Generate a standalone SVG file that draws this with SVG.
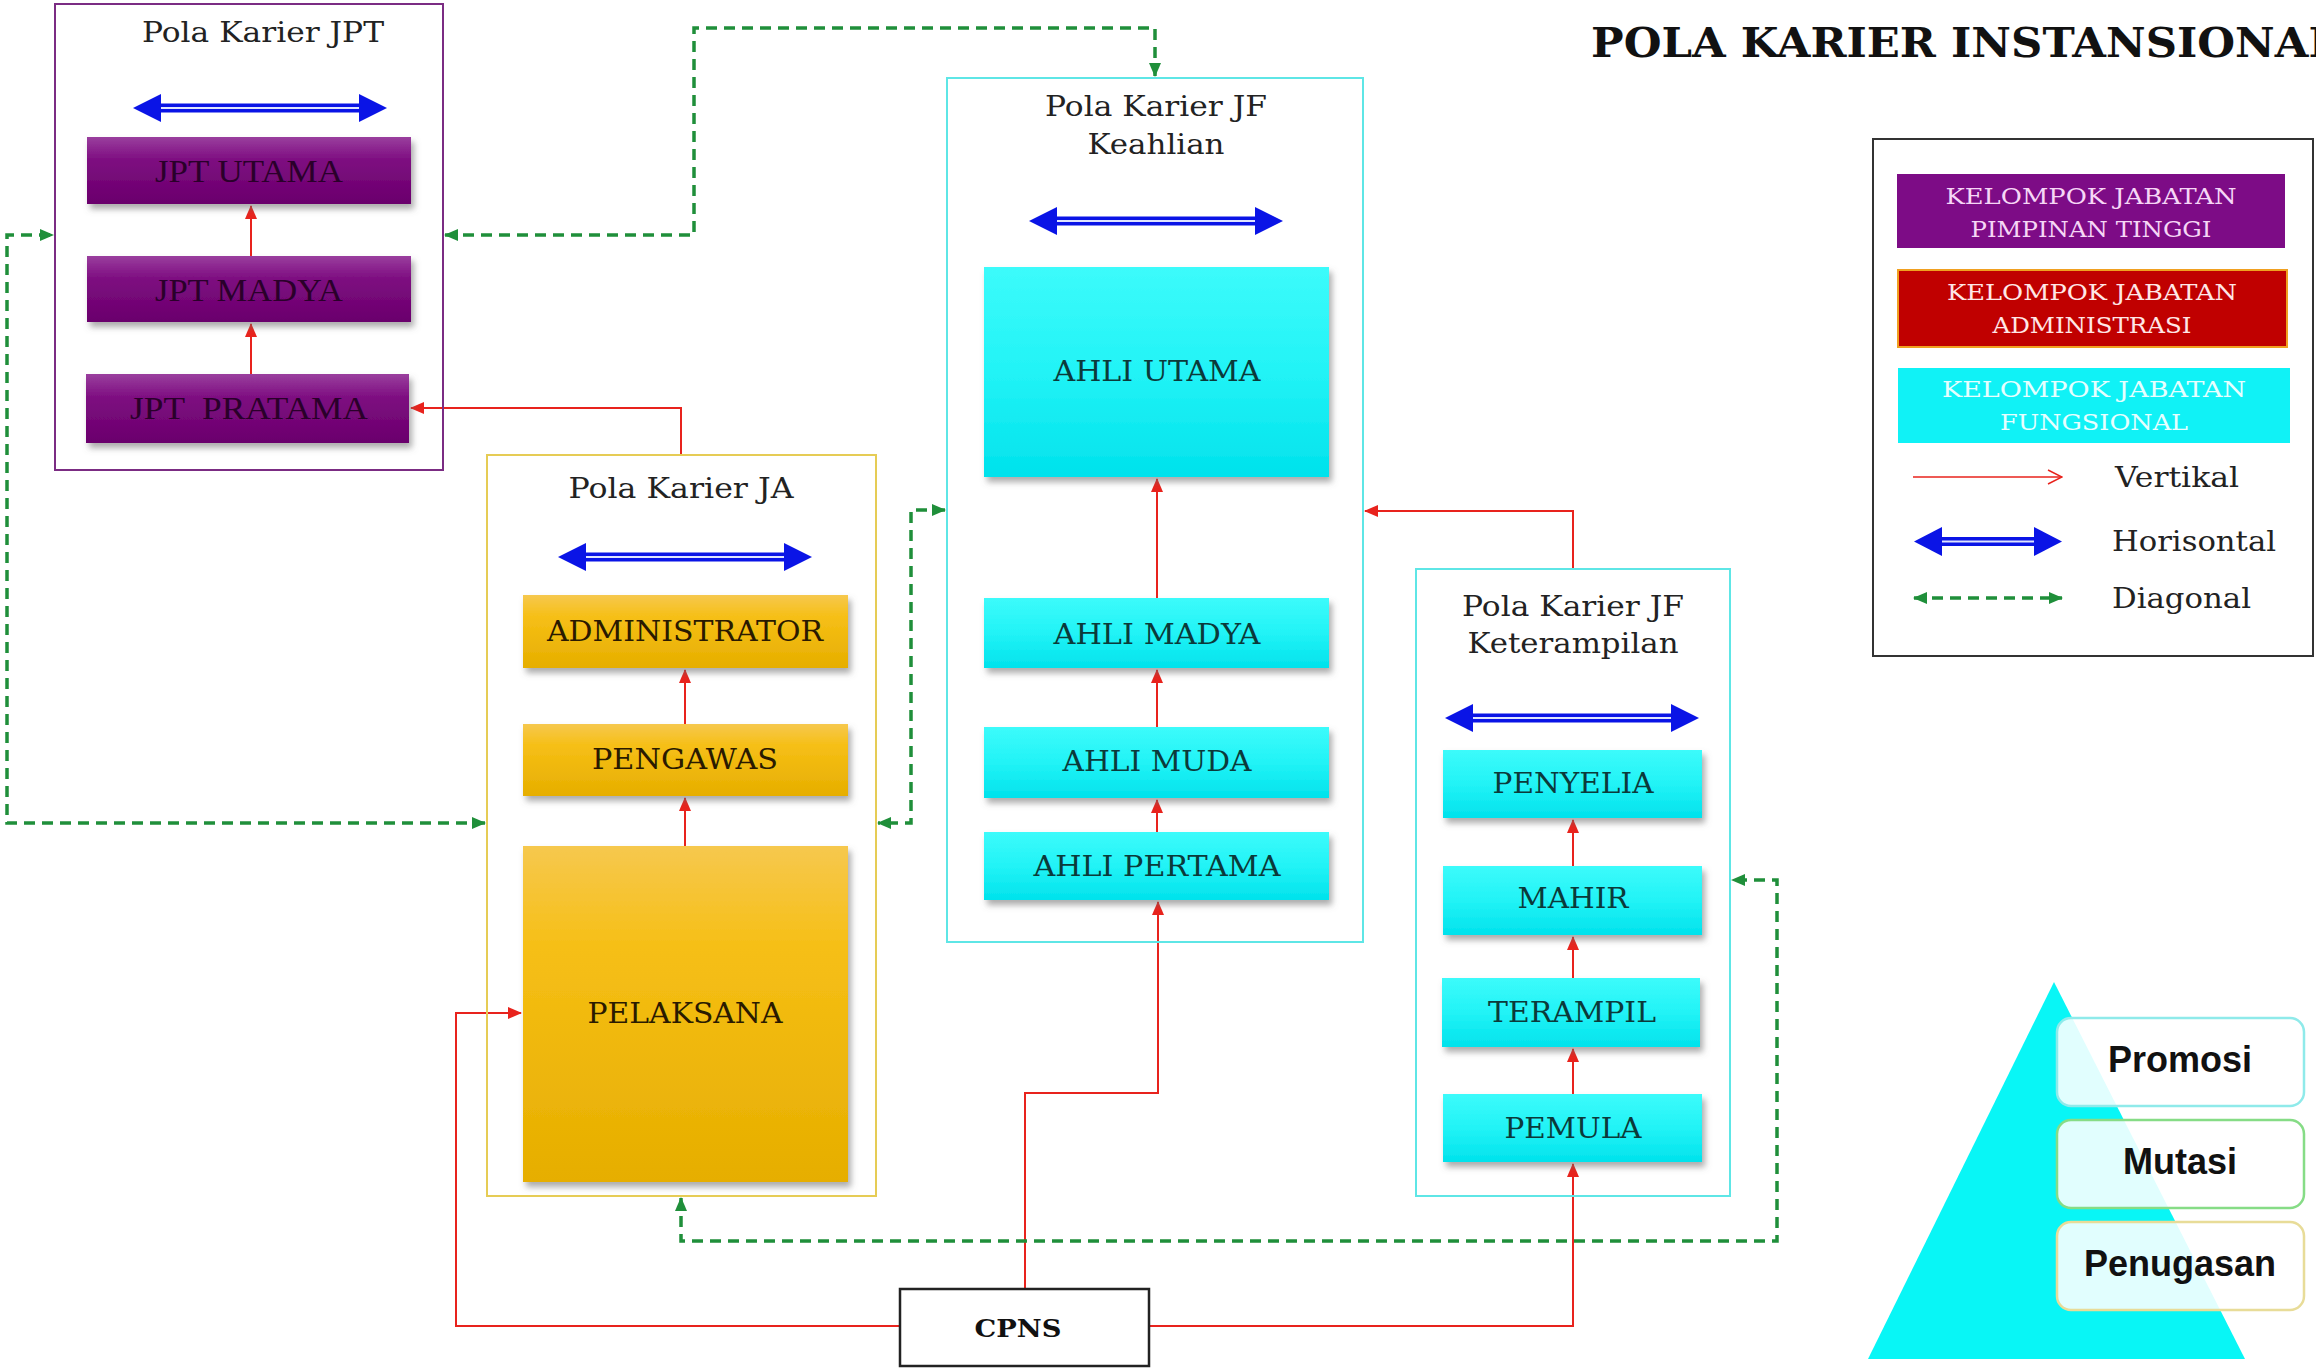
<svg xmlns="http://www.w3.org/2000/svg" width="2316" height="1369" viewBox="0 0 2316 1369">
<style>
.frame{fill:none;stroke-width:2}
.ttl{font-family:"DejaVu Serif","Liberation Serif",serif;font-size:27px;fill:#222;text-anchor:middle}
.lbl{font-family:"DejaVu Serif","Liberation Serif",serif;font-size:27px;text-anchor:middle}
.plbl{font-family:"Liberation Serif","DejaVu Serif",serif;font-size:31px;fill:#2a002a;text-anchor:middle}
.red{fill:none;stroke:#e8231d;stroke-width:2}
.grn{fill:none;stroke:#1f8f3a;stroke-width:3.5;stroke-dasharray:11 7}
.leg{font-family:"DejaVu Serif","Liberation Serif",serif;font-size:22px;text-anchor:middle}
.legt{font-family:"DejaVu Serif","Liberation Serif",serif;font-size:28px;fill:#222}
.pyr{font-family:"Liberation Sans",Arial,sans-serif;font-size:36px;font-weight:bold;fill:#111;text-anchor:middle}
</style>
<defs>
<linearGradient id="gP" x1="0" y1="0" x2="0" y2="1"><stop offset="0" stop-color="#9a3f9e"/><stop offset="0.35" stop-color="#7d0c80"/><stop offset="1" stop-color="#6a006c"/></linearGradient>
<linearGradient id="gO" x1="0" y1="0" x2="0" y2="1"><stop offset="0" stop-color="#f6c84e"/><stop offset="0.3" stop-color="#f6bf16"/><stop offset="1" stop-color="#e6ae00"/></linearGradient>
<linearGradient id="gC" x1="0" y1="0" x2="0" y2="1"><stop offset="0" stop-color="#3cfbfb"/><stop offset="0.5" stop-color="#22f3f6"/><stop offset="1" stop-color="#00e2ec"/></linearGradient>
<filter id="sh" x="-10%" y="-10%" width="125%" height="130%"><feDropShadow dx="3" dy="5" stdDeviation="3" flood-color="#666" flood-opacity="0.55"/></filter>
<marker id="ar" viewBox="0 0 14 12" refX="13" refY="6" markerWidth="14" markerHeight="12" markerUnits="userSpaceOnUse" orient="auto-start-reverse"><path d="M0,0 L14,6 L0,12 z" fill="#e8231d"/></marker>
<marker id="ag" viewBox="0 0 14 12" refX="13" refY="6" markerWidth="14" markerHeight="12" markerUnits="userSpaceOnUse" orient="auto-start-reverse"><path d="M0,0 L14,6 L0,12 z" fill="#1f8f3a"/></marker>
<marker id="ao" viewBox="0 0 16 16" refX="15" refY="8" markerWidth="16" markerHeight="16" markerUnits="userSpaceOnUse" orient="auto"><path d="M1,1 L15,8 L1,15" fill="none" stroke="#e8231d" stroke-width="1.5"/></marker>
<g id="dbl">
<rect x="-102" y="-4.5" width="204" height="9" fill="#0a14e6"/>
<line x1="-102" y1="0" x2="102" y2="0" stroke="#dfe4ff" stroke-width="2"/>
<polygon points="-127,0 -99,-14 -99,14" fill="#0a14e6"/>
<polygon points="127,0 99,-14 99,14" fill="#0a14e6"/>
</g>
</defs>
<rect width="2316" height="1369" fill="#fff"/>

<text x="1591" y="57" font-family="DejaVu Serif,Liberation Serif,serif" font-weight="bold" font-size="41" fill="#111" textLength="748" lengthAdjust="spacingAndGlyphs">POLA KARIER INSTANSIONAL</text>

<g id="connectors">
<path class="red" d="M251,256 V206" marker-end="url(#ar)"/>
<path class="red" d="M251,374 V324" marker-end="url(#ar)"/>
<path class="red" d="M681,455 V408 H411" marker-end="url(#ar)"/>
<path class="red" d="M685,724 V670" marker-end="url(#ar)"/>
<path class="red" d="M685,846 V798" marker-end="url(#ar)"/>
<path class="red" d="M1157,598 V479" marker-end="url(#ar)"/>
<path class="red" d="M1157,727 V670" marker-end="url(#ar)"/>
<path class="red" d="M1157,832 V800" marker-end="url(#ar)"/>
<path class="red" d="M1573,866 V820" marker-end="url(#ar)"/>
<path class="red" d="M1573,978 V937" marker-end="url(#ar)"/>
<path class="red" d="M1573,1094 V1049" marker-end="url(#ar)"/>
<path class="red" d="M1573,569 V511 H1365" marker-end="url(#ar)"/>
<path class="red" d="M900,1326 H456 V1013 H521" marker-end="url(#ar)"/>
<path class="red" d="M1025,1289 V1093 H1158 V902" marker-end="url(#ar)"/>
<path class="red" d="M1149,1326 H1573 V1164" marker-end="url(#ar)"/>
<path class="grn" d="M445,235 H694 V28 H1155 V76" marker-start="url(#ag)" marker-end="url(#ag)"/>
<path class="grn" d="M485,823 H7 V235 H53" marker-start="url(#ag)" marker-end="url(#ag)"/>
<path class="grn" d="M945,510 H911 V823 H878" marker-start="url(#ag)" marker-end="url(#ag)"/>
<path class="grn" d="M681,1198 V1241 H1777 V880 H1732" marker-start="url(#ag)" marker-end="url(#ag)"/>
</g>

<g id="pola-jpt">
<rect class="frame" x="55" y="4" width="388" height="466" stroke="#7b2c83"/>
<text class="ttl" x="263" y="42" textLength="242" lengthAdjust="spacingAndGlyphs">Pola Karier JPT</text>
<use href="#dbl" x="260" y="108"/>
</g>
<g id="jpt-utama"><rect x="87" y="137" width="324" height="67" fill="url(#gP)" filter="url(#sh)"/><text class="plbl" x="249" y="182" textLength="188" lengthAdjust="spacingAndGlyphs">JPT UTAMA</text></g>
<g id="jpt-madya"><rect x="87" y="256" width="324" height="66" fill="url(#gP)" filter="url(#sh)"/><text class="plbl" x="249" y="301" textLength="188" lengthAdjust="spacingAndGlyphs">JPT MADYA</text></g>
<g id="jpt-pratama"><rect x="86" y="374" width="323" height="69" fill="url(#gP)" filter="url(#sh)"/><text class="plbl" x="249" y="419" textLength="238" lengthAdjust="spacingAndGlyphs" xml:space="preserve">JPT  PRATAMA</text></g>

<g id="pola-ja">
<rect class="frame" x="487" y="455" width="389" height="741" stroke="#e6cc55"/>
<text class="ttl" x="681" y="498" textLength="225" lengthAdjust="spacingAndGlyphs">Pola Karier JA</text>
<use href="#dbl" x="685" y="557"/>
</g>
<g id="administrator"><rect x="523" y="595" width="325" height="73" fill="url(#gO)" filter="url(#sh)"/><text class="lbl" x="685" y="641" fill="#2a1a00" textLength="276" lengthAdjust="spacingAndGlyphs">ADMINISTRATOR</text></g>
<g id="pengawas"><rect x="523" y="724" width="325" height="72" fill="url(#gO)" filter="url(#sh)"/><text class="lbl" x="685" y="769" fill="#2a1a00" textLength="186" lengthAdjust="spacingAndGlyphs">PENGAWAS</text></g>
<g id="pelaksana"><rect x="523" y="846" width="325" height="336" fill="url(#gO)" filter="url(#sh)"/><text class="lbl" x="685" y="1023" fill="#2a1a00" textLength="195" lengthAdjust="spacingAndGlyphs">PELAKSANA</text></g>

<g id="pola-jf-keahlian">
<rect class="frame" x="947" y="78" width="416" height="864" stroke="#5ee6e6"/>
<text class="ttl" x="1156" y="116" textLength="222" lengthAdjust="spacingAndGlyphs">Pola Karier JF</text>
<text class="ttl" x="1156" y="154" textLength="137" lengthAdjust="spacingAndGlyphs">Keahlian</text>
<use href="#dbl" x="1156" y="221"/>
</g>
<g id="ahli-utama"><rect x="984" y="267" width="345" height="210" fill="url(#gC)" filter="url(#sh)"/><text class="lbl" x="1157" y="381" fill="#0b3a3a" textLength="207" lengthAdjust="spacingAndGlyphs">AHLI UTAMA</text></g>
<g id="ahli-madya"><rect x="984" y="598" width="345" height="70" fill="url(#gC)" filter="url(#sh)"/><text class="lbl" x="1157" y="644" fill="#0b3a3a" textLength="207" lengthAdjust="spacingAndGlyphs">AHLI MADYA</text></g>
<g id="ahli-muda"><rect x="984" y="727" width="345" height="71" fill="url(#gC)" filter="url(#sh)"/><text class="lbl" x="1157" y="771" fill="#0b3a3a" textLength="189" lengthAdjust="spacingAndGlyphs">AHLI MUDA</text></g>
<g id="ahli-pertama"><rect x="984" y="832" width="345" height="68" fill="url(#gC)" filter="url(#sh)"/><text class="lbl" x="1157" y="876" fill="#0b3a3a" textLength="247" lengthAdjust="spacingAndGlyphs">AHLI PERTAMA</text></g>

<g id="pola-jf-keterampilan">
<rect class="frame" x="1416" y="569" width="314" height="627" stroke="#5ee6e6"/>
<text class="ttl" x="1573" y="616" textLength="222" lengthAdjust="spacingAndGlyphs">Pola Karier JF</text>
<text class="ttl" x="1573" y="653" textLength="211" lengthAdjust="spacingAndGlyphs">Keterampilan</text>
<use href="#dbl" x="1572" y="718"/>
</g>
<g id="penyelia"><rect x="1443" y="750" width="259" height="68" fill="url(#gC)" filter="url(#sh)"/><text class="lbl" x="1573" y="793" fill="#0b3a3a" textLength="161" lengthAdjust="spacingAndGlyphs">PENYELIA</text></g>
<g id="mahir"><rect x="1443" y="866" width="259" height="69" fill="url(#gC)" filter="url(#sh)"/><text class="lbl" x="1573" y="908" fill="#0b3a3a" textLength="111" lengthAdjust="spacingAndGlyphs">MAHIR</text></g>
<g id="terampil"><rect x="1442" y="978" width="258" height="69" fill="url(#gC)" filter="url(#sh)"/><text class="lbl" x="1572" y="1022" fill="#0b3a3a" textLength="168" lengthAdjust="spacingAndGlyphs">TERAMPIL</text></g>
<g id="pemula"><rect x="1443" y="1094" width="259" height="68" fill="url(#gC)" filter="url(#sh)"/><text class="lbl" x="1573" y="1138" fill="#0b3a3a" textLength="137" lengthAdjust="spacingAndGlyphs">PEMULA</text></g>

<g id="cpns"><rect x="900" y="1289" width="249" height="77" fill="#fff" stroke="#222" stroke-width="2.5"/><text x="1018" y="1337" font-family="DejaVu Serif,Liberation Serif,serif" font-weight="bold" font-size="25" fill="#111" text-anchor="middle" textLength="87" lengthAdjust="spacingAndGlyphs">CPNS</text></g>

<g id="legend">
<rect x="1873" y="139" width="440" height="517" fill="#fff" stroke="#333" stroke-width="2"/>
<rect x="1897" y="174" width="388" height="74" fill="#7d0c86"/>
<text class="leg" x="2091" y="204" fill="#f6d6f6" textLength="291" lengthAdjust="spacingAndGlyphs">KELOMPOK JABATAN</text>
<text class="leg" x="2091" y="237" fill="#f6d6f6" textLength="241" lengthAdjust="spacingAndGlyphs">PIMPINAN TINGGI</text>
<rect x="1898" y="270" width="389" height="77" fill="#c00000" stroke="#f0a020" stroke-width="2"/>
<text class="leg" x="2092" y="300" fill="#ffe6e6" textLength="290" lengthAdjust="spacingAndGlyphs">KELOMPOK JABATAN</text>
<text class="leg" x="2092" y="333" fill="#ffe6e6" textLength="199" lengthAdjust="spacingAndGlyphs">ADMINISTRASI</text>
<rect x="1898" y="368" width="392" height="75" fill="#10f2f6"/>
<text class="leg" x="2094" y="397" fill="#e6ffff" textLength="304" lengthAdjust="spacingAndGlyphs">KELOMPOK JABATAN</text>
<text class="leg" x="2094" y="430" fill="#e6ffff" textLength="188" lengthAdjust="spacingAndGlyphs">FUNGSIONAL</text>
<path d="M1913,477 H2062" stroke="#e8231d" stroke-width="1.5" marker-end="url(#ao)"/>
<text class="legt" x="2115" y="487" textLength="124" lengthAdjust="spacingAndGlyphs">Vertikal</text>
<rect x="1940" y="537" width="96" height="9" fill="#0a14e6"/>
<line x1="1940" y1="541.5" x2="2036" y2="541.5" stroke="#dfe4ff" stroke-width="2"/>
<polygon points="1914,541.5 1942,527 1942,556" fill="#0a14e6"/>
<polygon points="2062,541.5 2034,527 2034,556" fill="#0a14e6"/>
<text class="legt" x="2112" y="551" textLength="164" lengthAdjust="spacingAndGlyphs">Horisontal</text>
<path class="grn" d="M1914,598 H2062" marker-start="url(#ag)" marker-end="url(#ag)"/>
<text class="legt" x="2112" y="608" textLength="139" lengthAdjust="spacingAndGlyphs">Diagonal</text>
</g>

<g id="pyramid">
<polygon points="2054,982 1868,1359 2245,1359" fill="#08f6f6"/>
<g id="promosi"><rect x="2057" y="1018" width="247" height="88" rx="14" fill="#fff" fill-opacity="0.88" stroke="#8feaea" stroke-width="2.5"/><text class="pyr" x="2180" y="1072">Promosi</text></g>
<g id="mutasi"><rect x="2057" y="1120" width="247" height="88" rx="14" fill="#fff" fill-opacity="0.88" stroke="#86dc86" stroke-width="2.5"/><text class="pyr" x="2180" y="1174">Mutasi</text></g>
<g id="penugasan"><rect x="2057" y="1222" width="247" height="88" rx="14" fill="#fff" fill-opacity="0.88" stroke="#e8dc98" stroke-width="2.5"/><text class="pyr" x="2180" y="1276">Penugasan</text></g>
</g>
</svg>
